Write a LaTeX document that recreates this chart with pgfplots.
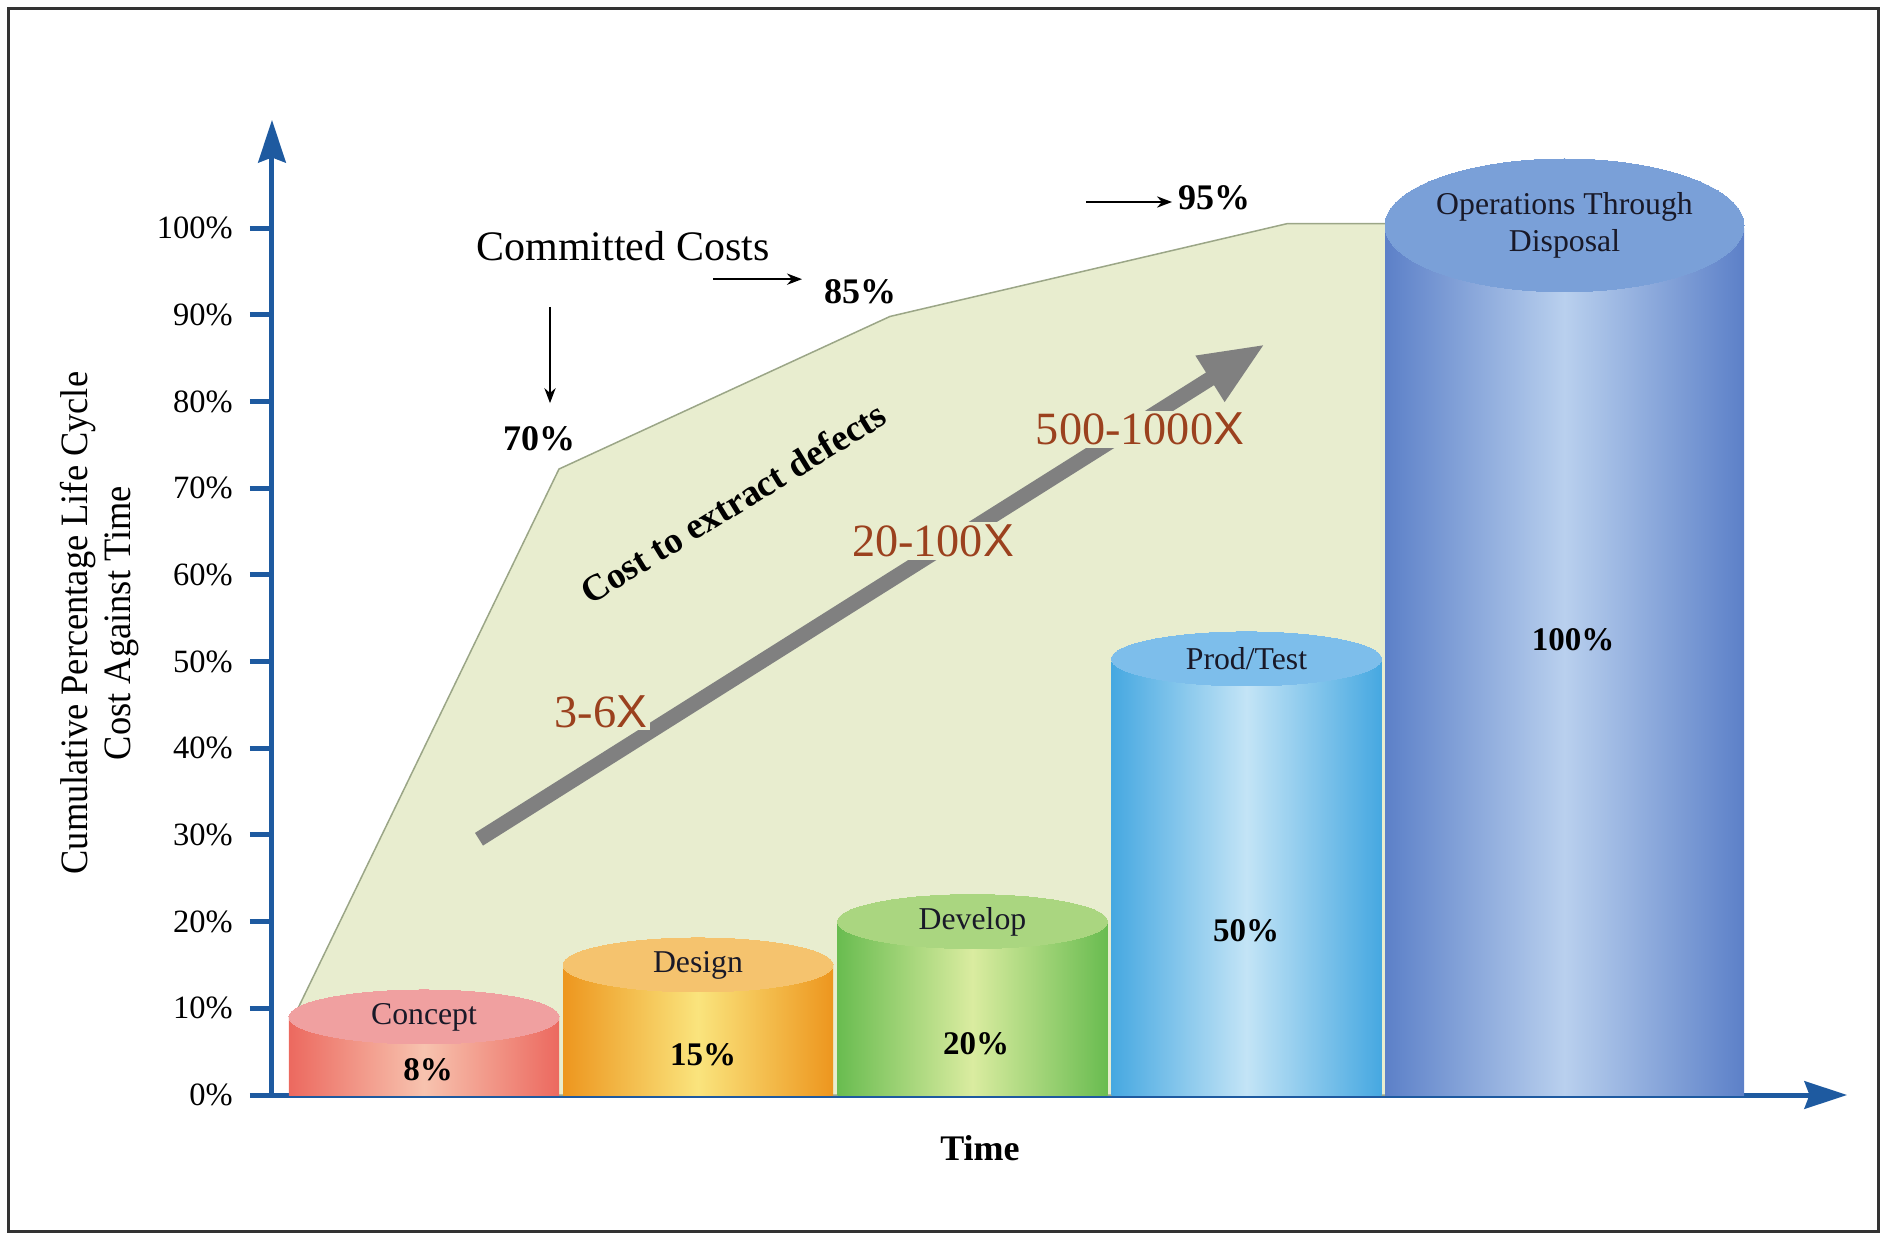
\documentclass[border=0pt]{standalone}
\usepackage{fontspec}
\setmainfont{Liberation Serif}
\setsansfont{Liberation Sans}
\newfontfamily\labelfont[FakeStretch=0.94]{Liberation Serif}
\usepackage{pgfplots}
\pgfplotsset{compat=1.18}
\usetikzlibrary{arrows.meta}

\definecolor{axblue}{RGB}{30,90,160}
\definecolor{areafill}{RGB}{232,237,207}
\definecolor{areaedge}{RGB}{155,166,135}
\definecolor{arrowgray}{RGB}{128,128,128}
\definecolor{factor}{RGB}{155,65,30}
\definecolor{namecol}{RGB}{25,25,40}
% cylinder colours: edge, middle, top
\definecolor{conE}{RGB}{236,105,95}\definecolor{conM}{RGB}{247,195,175}\definecolor{conT}{RGB}{240,160,160}
\definecolor{desE}{RGB}{237,150,30}\definecolor{desM}{RGB}{250,228,125}\definecolor{desT}{RGB}{245,195,110}
\definecolor{devE}{RGB}{105,188,80}\definecolor{devM}{RGB}{218,236,160}\definecolor{devT}{RGB}{170,214,128}
\definecolor{proE}{RGB}{70,168,225}\definecolor{proM}{RGB}{195,228,246}\definecolor{proT}{RGB}{125,190,235}
\definecolor{opsE}{RGB}{92,128,200}\definecolor{opsM}{RGB}{185,208,238}\definecolor{opsT}{RGB}{122,160,216}

\pgfplotsset{
  body/.style n args={3}{ybar, bar width=#1, bar shift=0pt, draw=none,
    left color=#2, right color=#2, middle color=#3},
  top/.style n args={4}{only marks, color=#3, mark=*, mark size=#1,
    mark options={yscale=#2, fill=#3, draw=#3, line width=0pt},
    nodes near coords={#4},
    every node near coord/.style={anchor=center, align=center, text=namecol,
      font=\fontsize{12.7}{14.5}\selectfont}},
}

\begin{document}
\begin{tikzpicture}
\begin{axis}[
  scale only axis, width=630pt, height=390pt,
  xmin=0, xmax=1575, ymin=0, ymax=112.46,
  axis lines=left,
  axis line style={axblue, line width=2pt, -{Stealth[length=17pt,width=11pt,inset=2pt]}},
  xtick=\empty,
  ytick={0,10,20,30,40,50,60,70,80,90,100},
  yticklabels={0\%,10\%,20\%,30\%,40\%,50\%,60\%,70\%,80\%,90\%,100\%},
  major tick length=8.8pt,
  tick align=outside,
  y tick style={axblue, line width=2pt},
  yticklabel style={font=\fontsize{13}{15}\selectfont, xshift=-3.4pt,
    /pgf/number format/assume math mode=true},
  ylabel={Cumulative Percentage Life Cycle\\Cost Against Time},
  ylabel style={at={(axis description cs:-0.1095,0.484)}, anchor=center, align=center,
    font=\labelfont\fontsize{15.5}{17}\selectfont},
  xlabel={Time},
  xlabel style={at={(axis description cs:0.4495,-0.0543)}, anchor=center,
    font=\bfseries\fontsize{14.4}{17}\selectfont},
  clip=false,
]
% committed costs area
\addplot[fill=areafill, draw=areaedge, line width=0.6pt]
  coordinates {(26,0) (26,10) (287,72.2) (618,89.8) (1015,100.5) (1200,100.5) (1200,0)} --cycle;

% cost-to-extract arrow
\draw[arrowgray, line width=6pt, -{Triangle[length=26pt,width=20pt]}]
  (axis cs:207,29.5) -- (axis cs:993,86.6);
\node[font=\bfseries\fontsize{14.8}{17}\selectfont, rotate=31.5] at (axis cs:461,68.3) {Cost to extract defects};
\node[font=\fontsize{18.5}{20}\selectfont, text=factor, fill=areafill, inner sep=1pt] at (axis cs:329,44.2) {3-6{\sffamily X}};
\node[font=\fontsize{18.5}{20}\selectfont, text=factor, fill=areafill, inner sep=1pt] at (axis cs:661,63.9) {20-100{\sffamily X}};
\node[font=\fontsize{18.5}{20}\selectfont, text=factor, fill=areafill, inner sep=1pt] at (axis cs:868,76.8) {500-1000{\sffamily X}};

% cylinders: bodies
\addplot[body={270}{conE}{conM}] coordinates {(152,9)};
\addplot[body={270}{desE}{desM}] coordinates {(426,15)};
\addplot[body={270}{devE}{devM}] coordinates {(700.5,20)};
\addplot[body={270}{proE}{proM}] coordinates {(974.5,50)};
\addplot[body={359}{opsE}{opsM}] coordinates {(1292.5,100)};
% cylinders: tops with names
\addplot[top={54pt}{0.2}{conT}{Concept}] coordinates {(152,9)};
\addplot[top={54pt}{0.2}{desT}{Design}] coordinates {(426,15)};
\addplot[top={54pt}{0.2}{devT}{Develop}] coordinates {(700.5,20)};
\addplot[top={54pt}{0.2}{proT}{Prod/Test}] coordinates {(974.5,50.3)};
\addplot[top={71.8pt}{0.37}{opsT}{Operations Through\\Disposal}] coordinates {(1292.5,100.3)};

% values on the cylinders
\begin{scope}[every node/.style={font=\bfseries\fontsize{13.2}{15}\selectfont}]
\node at (axis cs:156,2.9) {8\%};
\node at (axis cs:431,4.6) {15\%};
\node at (axis cs:704,5.9) {20\%};
\node at (axis cs:974,19.0) {50\%};
\node at (axis cs:1301,52.5) {100\%};
\end{scope}

% committed cost annotations
\node[font=\fontsize{16.8}{19}\selectfont] at (axis cs:351,97.9) {Committed Costs};
\draw[line width=0.8pt, -{Stealth[length=6pt,width=4.5pt]}] (axis cs:278,90.9) -- (axis cs:278,79.8);
\draw[line width=0.8pt, -{Stealth[length=6pt,width=4.5pt]}] (axis cs:441,94.1) -- (axis cs:530,94.1);
\draw[line width=0.8pt, -{Stealth[length=6pt,width=4.5pt]}] (axis cs:814,103.0) -- (axis cs:900,103.0);
\begin{scope}[every node/.style={font=\bfseries\fontsize{14.4}{16}\selectfont}]
\node at (axis cs:267,75.7) {70\%};
\node at (axis cs:588,92.6) {85\%};
\node at (axis cs:942,103.5) {95\%};
\end{scope}

% outer frame and page extent
\draw[line width=1.2pt, black!80] (axis cs:-263,-15.80) rectangle (axis cs:1606,125.37);
\path (axis cs:-272,-16.15) rectangle (axis cs:1613,126.30);
\end{axis}
\end{tikzpicture}
\end{document}
